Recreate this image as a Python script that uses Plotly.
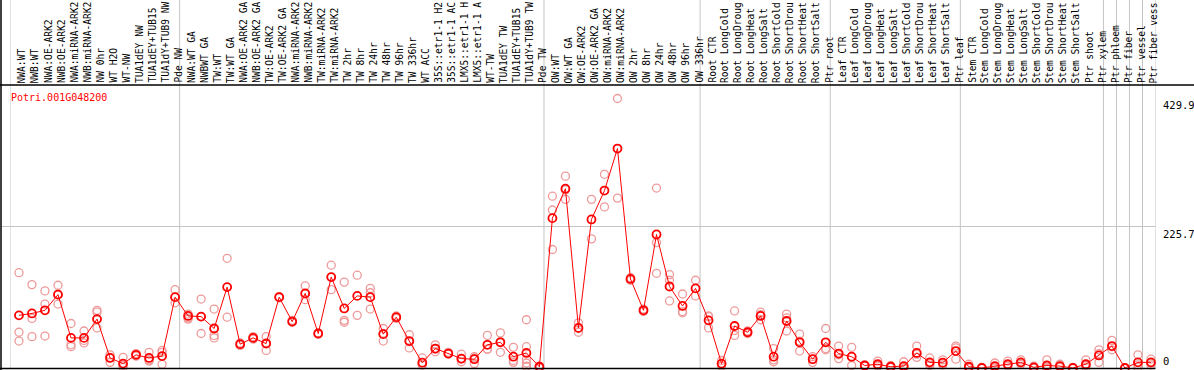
import plotly.graph_objects as go

W, H = 1194, 370

gene = "Potri.001G048200"

labels_nw = ["NWA:WT", "NWB:WT", "NWA:OE-ARK2", "NWB:OE-ARK2", "NWA:miRNA-ARK2", "NWB:miRNA-ARK2",
             "NW 0hr", "WT H2O", "WT-NW", "TUA1dEY NW", "TUA1dEY+TUB15", "TUA1dY+TUB9 NW", "Pde NW"]
labels_tw = ["NWA:WT GA", "NWBWT GA", "TW:WT", "TW:WT GA", "NWA:OE-ARK2 GA", "NWB:OE-ARK2 GA",
             "TW:OE-ARK2", "TW:OE-ARK2 GA", "NWA:miRNA-ARK2", "NWB:miRNA-ARK2", "TW:miRNA-ARK2",
             "TW:miRNA-ARK2", "TW 2hr", "TW 8hr", "TW 24hr", "TW 48hr", "TW 96hr", "TW 336hr", "WT ACC",
             "35S::etr1-1 H2", "35S::etr1-1 AC", "LMX5::etr1-1 H", "LMX5::etr1-1 A", "WT-TW",
             "TUA1dEY TW", "TUA1dEY+TUB15", "TUA1dY+TUB9 TW", "Pde TW"]
labels_ow = ["OW:WT", "OW:WT GA", "OW:OE-ARK2", "OW:OE-ARK2 GA", "OW:miRNA-ARK2", "OW:miRNA-ARK2",
             "OW 2hr", "OW 8hr", "OW 24hr", "OW 48hr", "OW 96hr", "OW 336hr"]
labels_root = ["Root CTR", "Root LongCold", "Root LongDroug", "Root LongHeat", "Root LongSalt",
               "Root ShortCold", "Root ShortDrou", "Root ShortHeat", "Root ShortSalt", "Ptr root"]
labels_leaf = ["Leaf CTR", "Leaf LongCold", "Leaf LongDroug", "Leaf LongHeat", "Leaf LongSalt",
               "Leaf ShortCold", "Leaf ShortDrou", "Leaf ShortHeat", "Leaf ShortSalt", "Ptr leaf"]
labels_stem = ["Stem CTR", "Stem LongCold", "Stem LongDroug", "Stem LongHeat", "Stem LongSalt",
               "Stem ShortCold", "Stem ShortDrou", "Stem ShortHeat", "Stem ShortSalt", "Ptr shoot", "Ptr xylem"]
labels_cell = ["Ptr phloem", "Ptr fiber", "Ptr vessel", "Ptr fiber vess"]

groups = [labels_nw, labels_tw, labels_ow, labels_root, labels_leaf, labels_stem,
          labels_cell[0:1], labels_cell[1:2], labels_cell[2:3], labels_cell[3:4]]

means = [
    84, 87, 92, 117, 48, 48, 78, 16, 7, 21, 16, 19, 113,
    83, 82, 63, 129, 38, 48, 39, 113, 74, 119, 55, 145, 95, 115, 113, 54, 81, 43, 8.5, 31, 23, 15, 14,
    37, 41, 18, 24, 2,
    239, 286, 64, 237, 283, 350, 142, 92, 213, 130, 99, 127,
    76, 7, 67, 57, 83, 18, 75, 41, 14, 41,
    23, 18, 4, 6, 2, 3, 24, 9, 8.5, 27,
    2, 0, 3, 6, 9, 1, 4, 3, 0, 6, 20,
    35, 0, 9, 9,
]

reps = [
    [152, 57, 43], [133, 79, 50], [123, 102, 51], [132, 118, 102], [71, 37, 34], [59, 44, 40],
    [92, 89, 64], [21, 17, 9], [17, 4, 1], [23, 20, 19], [25, 13, 11], [28, 25, 6], [125, 113, 104],
    [86, 80, 78], [110, 82, 55], [94, 52, 48], [175, 81], [40, 36], [50, 46], [50, 40, 28],
    [114, 112], [76, 73], [131, 118, 109], [56, 54], [164, 145, 125], [137, 76, 73], [148, 84],
    [127, 120, 94], [63, 55, 43], [83, 79], [53, 42, 32], [16, 5, 5], [37, 30, 26], [25, 22],
    [22, 14, 10], [18, 16, 7], [52, 30, 30], [56, 42, 25], [33, 12, 9], [77, 34, 14, 8, 3, 2],
    [3, 1, 0],
    [274, 252, 189], [306, 284, 269], [72, 63, 57], [269, 206], [309, 257], [429.9, 271],
    [144, 140], [94, 90], [287, 200, 151], [149, 140, 107], [118, 90, 88], [140, 115],
    [83, 82, 64], [12, 6, 3], [91, 60, 52], [59, 56, 55], [89, 85, 77], [31, 13, 10],
    [86, 80, 59], [54, 43, 27], [18, 14, 9], [63, 31, 29],
    [35, 21, 15], [33, 18, 4], [5, 4, 3], [11, 4, 3], [4, 1, 1], [10, 1, 0], [35, 22, 17],
    [16, 7, 4], [13, 8, 5], [35, 32, 14],
    [6, 0, 0], [1, 0], [8, 1, 0], [11, 5, 3], [13, 8, 6], [3, 0, 0], [13, 0, 0], [6, 2, 1],
    [1, 0], [13, 4, 1], [29, 23, 9],
    [44, 34, 29], [0, 0], [21, 5, 1], [14, 8, 5],
]

y_tick_max = 429.9
y_tick_mid = 225.7
y_top = 451.4

labels = [lab for g in groups for lab in g]
n = len(labels)
xs = [i + 0.65 for i in range(n)]

def fx(px):
    return px / W

def fy(py):
    return 1 - py / H

plot_left, plot_right = 10.5, 1155.5
plot_top, plot_bottom = 85, 368

rx, ry = [], []
for xv, rv in zip(xs, reps):
    for v in rv:
        rx.append(xv)
        ry.append(v)

fig = go.Figure()
fig.add_trace(go.Scatter(
    x=rx, y=ry, mode="markers", cliponaxis=False, hoverinfo="skip",
    marker=dict(symbol="circle-open", size=8, color="#ee9a9a", line=dict(width=1.3, color="#ee9a9a")),
))
fig.add_trace(go.Scatter(
    x=xs, y=means, mode="lines+markers", cliponaxis=False,
    line=dict(color="#ff0000", width=1),
    marker=dict(symbol="circle-open", size=8, color="#ff0000", line=dict(width=1.8, color="#ff0000")),
))

shapes = []
b = 0
bounds = [0]
for g in groups:
    b += len(g)
    bounds.append(b)
for bb in bounds:
    shapes.append(dict(type="line", xref="x", yref="paper", x0=bb, x1=bb,
                       y0=fy(plot_bottom), y1=1, line=dict(color="#c4c4c4", width=1), layer="below"))
shapes.append(dict(type="line", xref="paper", yref="y", x0=fx(1), x1=fx(plot_right),
                   y0=y_tick_mid, y1=y_tick_mid, line=dict(color="#c4c4c4", width=1), layer="below"))
shapes.append(dict(type="line", xref="paper", yref="paper", x0=0, x1=1,
                   y0=fy(85), y1=fy(85), line=dict(color="black", width=1.5)))
shapes.append(dict(type="line", xref="paper", yref="paper", x0=fx(1), x1=fx(1),
                   y0=0, y1=1, line=dict(color="black", width=1.5)))
shapes.append(dict(type="line", xref="paper", yref="paper", x0=0, x1=fx(plot_right),
                   y0=fy(368.5), y1=fy(368.5), line=dict(color="black", width=1.5)))

mono = "DejaVu Sans Mono"
annotations = []
for xv, lab in zip(xs, labels):
    annotations.append(dict(x=xv, y=fy(84), xref="x", yref="paper", text=lab, showarrow=False,
                            textangle=-90, xanchor="center", yanchor="bottom", xshift=3,
                            font=dict(family=mono, size=9.6, color="black"), borderpad=0))
annotations.append(dict(x=fx(9), y=fy(97), xref="paper", yref="paper", text=gene, showarrow=False,
                        xanchor="left", yanchor="middle", font=dict(family=mono, size=10, color="#ff0000")))
for val, anchor in [(y_tick_max, "top"), (y_tick_mid, "top"), (0, "bottom")]:
    annotations.append(dict(x=fx(1162), y=val, xref="paper", yref="y", text=str(val) if val else "0",
                            showarrow=False, xanchor="left", yanchor=anchor, borderpad=0,
                            font=dict(family=mono, size=10.5, color="black")))

fig.update_layout(
    width=W, height=H, margin=dict(l=0, r=0, t=0, b=0),
    paper_bgcolor="white", plot_bgcolor="white", showlegend=False,
    xaxis=dict(domain=[fx(plot_left), fx(plot_right)], range=[0, n], visible=False, fixedrange=True),
    yaxis=dict(domain=[fy(plot_bottom), fy(plot_top)], range=[0, y_top], visible=False, fixedrange=True),
    shapes=shapes, annotations=annotations,
)

fig.write_html("out.html", config={"displayModeBar": False},
               post_script="document.body.style.margin='0';document.body.style.overflow='hidden';")
